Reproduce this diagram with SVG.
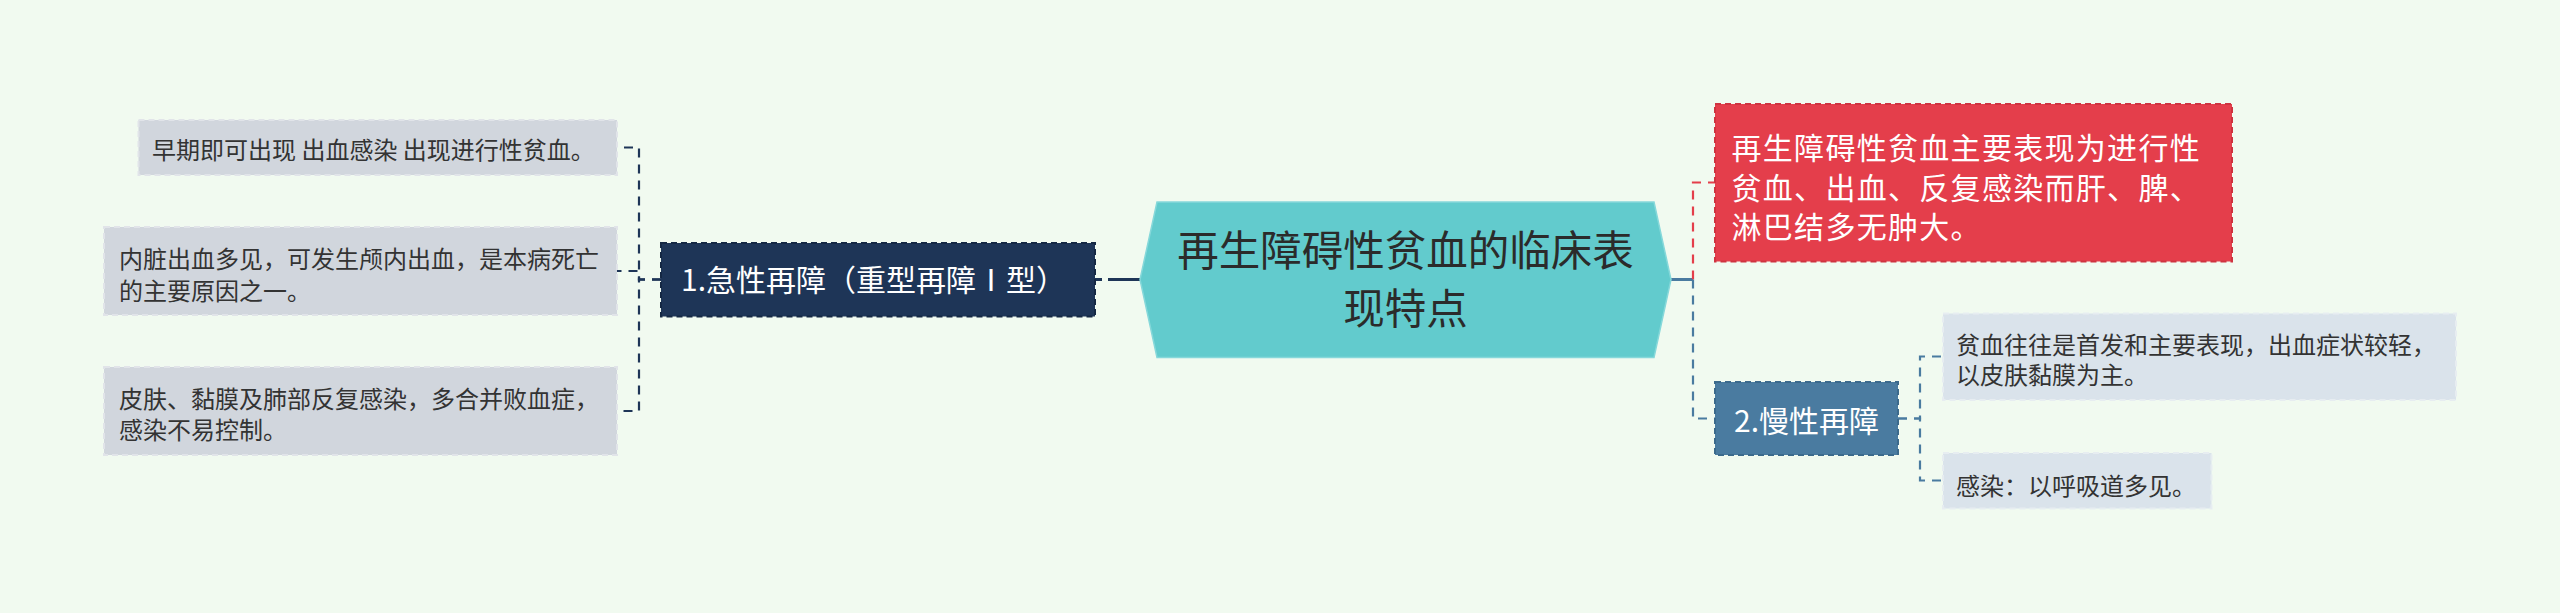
<svg xmlns="http://www.w3.org/2000/svg" width="2560" height="613" viewBox="0 0 2560 613">
<style>
text{font-family:"Noto Sans CJK SC","Noto Sans",sans-serif;}
.leafL{fill:#D1D6DD;stroke:#E1E4E9;stroke-width:2;stroke-dasharray:6 4;}
.leafR{fill:#DAE3EB;stroke:#E7EDF1;stroke-width:2;stroke-dasharray:6 4;}
.lt{font-size:24px;fill:#333333;}
.wt{fill:#FFFFFF;}
.conn{fill:none;stroke-width:2.2;stroke-dasharray:9 7;}
</style>
<rect x="0" y="0" width="2560" height="613" fill="#F1FAF0"/>
<g id="connectors">
  <path class="conn" stroke="#1E3557" d="M661,279.5 H639 V147.5 H617"/>
  <path class="conn" stroke="#1E3557" d="M661,279.5 H639 V271 H617"/>
  <path class="conn" stroke="#1E3557" d="M661,279.5 H639 V411 H617"/>
  <line x1="1095" y1="279.5" x2="1102" y2="279.5" stroke="#1E3557" stroke-width="3"/>
  <line x1="1108" y1="279.5" x2="1141" y2="279.5" stroke="#1E3557" stroke-width="3"/>
  <line x1="1670" y1="279.5" x2="1693" y2="279.5" stroke="#4A7BA0" stroke-width="3"/>
  <path class="conn" stroke="#E43E4B" d="M1693,279.5 V182.5 H1715"/>
  <path class="conn" stroke="#4A7BA0" d="M1693,279.5 V418.5 H1715"/>
  <path class="conn" stroke="#4A7BA0" d="M1898,418.5 H1920 V356.5 H1943"/>
  <path class="conn" stroke="#4A7BA0" d="M1898,418.5 H1920 V480.5 H1943"/>
</g>
<g id="root">
  <polygon points="1157,202 1654,202 1671,279.5 1654,357.5 1157,357.5 1140,279.5" fill="#62CBCD" stroke="#86D8DA" stroke-width="1.5"/>
  <text font-size="41.5" fill="#2B2B2B" text-anchor="middle"><tspan x="1405.5" y="266">再生障碍性贫血的临床表</tspan><tspan x="1405.5" y="323.5">现特点</tspan></text>
</g>
<g id="node-acute">
  <rect x="661" y="243" width="434" height="73.5" fill="#1E3557" stroke="#152844" stroke-width="2" stroke-dasharray="6 4"/>
  <text x="681" y="290.5" font-size="30" class="wt">1.急性再障（重型再障Ⅰ型）</text>
</g>
<g id="leaf-acute-1">
  <rect class="leafL" x="138.5" y="120" width="478.5" height="55"/>
  <text class="lt" x="152" y="158.5">早期即可出现 出血感染 出现进行性贫血。</text>
</g>
<g id="leaf-acute-2">
  <rect class="leafL" x="104" y="227" width="513" height="88"/>
  <text class="lt"><tspan x="119" y="267.5">内脏出血多见，可发生颅内出血，是本病死亡</tspan><tspan x="119" y="299.5">的主要原因之一。</tspan></text>
</g>
<g id="leaf-acute-3">
  <rect class="leafL" x="104" y="367" width="513" height="88"/>
  <text class="lt"><tspan x="119" y="407.5">皮肤、黏膜及肺部反复感染，多合并败血症，</tspan><tspan x="119" y="439">感染不易控制。</tspan></text>
</g>
<g id="node-summary">
  <rect x="1715" y="104" width="517" height="157.5" fill="#E43E4B" stroke="#CF3340" stroke-width="2" stroke-dasharray="6 4"/>
  <text font-size="30" letter-spacing="1.3" class="wt"><tspan x="1731.5" y="159">再生障碍性贫血主要表现为进行性</tspan><tspan x="1731.5" y="198.5">贫血、出血、反复感染而肝、脾、</tspan><tspan x="1731.5" y="238">淋巴结多无肿大。</tspan></text>
</g>
<g id="node-chronic">
  <rect x="1715" y="382" width="183" height="73" fill="#4A7BA0" stroke="#3C6A8C" stroke-width="2" stroke-dasharray="6 4"/>
  <text x="1806.5" y="431.5" font-size="30" class="wt" text-anchor="middle">2.慢性再障</text>
</g>
<g id="leaf-chronic-1">
  <rect class="leafR" x="1943" y="313.5" width="513" height="86.5"/>
  <text class="lt"><tspan x="1956" y="354">贫血往往是首发和主要表现，出血症状较轻，</tspan><tspan x="1956" y="384">以皮肤黏膜为主。</tspan></text>
</g>
<g id="leaf-chronic-2">
  <rect class="leafR" x="1943" y="453" width="268.5" height="55.5"/>
  <text class="lt" x="1956" y="495">感染：以呼吸道多见。</text>
</g>
</svg>
